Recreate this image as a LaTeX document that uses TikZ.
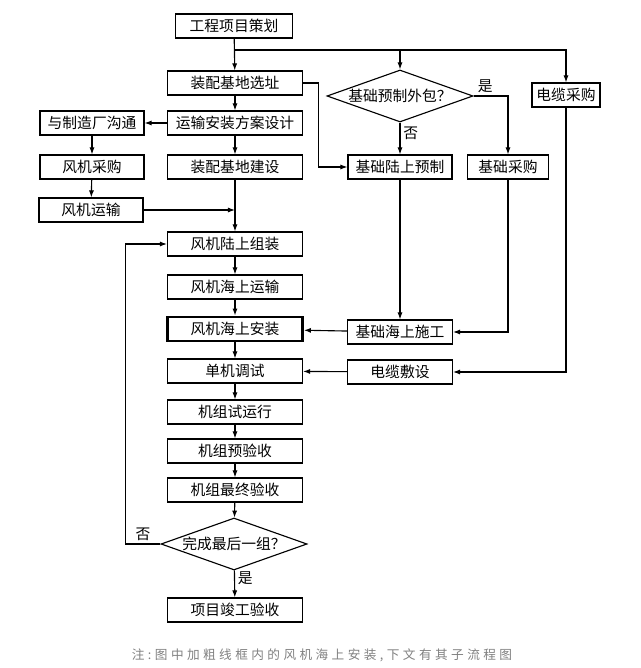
\documentclass[tikz,border=0pt]{standalone}
\usepackage{fontspec}
\usepackage{tikz}
\usetikzlibrary{arrows.meta,shapes.geometric}
\newfontfamily\cjk{Noto Sans CJK SC}
\newfontfamily\cjknote[LetterSpace=27]{Noto Sans CJK SC}
\tikzset{
  box/.style={draw, line width=0.8pt, minimum height=0.6cm, inner sep=0pt,
    font=\cjk\fontsize{10.5pt}{12pt}\selectfont},
  mainbox/.style={box, minimum width=3.375cm},
  sidebox/.style={box, minimum width=2.6cm},
  ask/.style={draw, line width=0.8pt, diamond, aspect=2.8, inner sep=0pt,
    minimum width=3.65cm, minimum height=1.3cm,
    font=\cjk\fontsize{10.5pt}{12pt}\selectfont},
  flow/.style={line width=0.8pt, -{Latex[length=5pt,width=3.6pt]}},
  tag/.style={font=\cjk\fontsize{10.5pt}{12pt}\selectfont, inner sep=2pt}
}
\begin{document}
\begin{tikzpicture}[x=0.025cm, y=-0.025cm]
    \useasboundingbox (0,0) rectangle (640,668);
    \node[box, minimum width=2.925cm] (plan) at (234, 26) {工程项目策划};
    \node[mainbox] (site)     at (235,  83) {装配基地选址};
    \node[mainbox] (design)   at (235, 123) {运输安装方案设计};
    \node[mainbox] (build)    at (235, 167) {装配基地建设};
    \node[sidebox] (talk)     at ( 92, 123) {与制造厂沟通};
    \node[sidebox] (wbuy)     at ( 92, 167) {风机采购};
    \node[sidebox] (wship)    at ( 91, 210) {风机运输};
    \node[mainbox] (assemble) at (235, 244) {风机陆上组装};
    \node[mainbox] (seaship)  at (235, 287) {风机海上运输};
    \node[mainbox, line width=2pt] (install) at (235, 329) {风机海上安装};
    \node[mainbox] (single)   at (235, 371) {单机调试};
    \node[mainbox] (trial)    at (235, 412) {机组试运行};
    \node[mainbox] (precheck) at (235, 451) {机组预验收};
    \node[mainbox] (fincheck) at (235, 490) {机组最终验收};
    \node[ask]     (lastone)  at (234, 544) {完成最后一组？};
    \node[mainbox] (done)     at (235, 610) {项目竣工验收};
    \node[ask]     (outsrc)   at (400,  96) {基础预制外包？};
    \node[sidebox] (fland)    at (400, 167) {基础陆上预制};
    \node[box, minimum width=2.025cm] (fbuy) at (508, 167) {基础采购};
    \node[box, minimum width=1.7cm]   (cbuy) at (566,  95) {电缆采购};
    \node[box, minimum width=2.625cm] (fsea) at (400, 332) {基础海上施工};
    \node[box, minimum width=2.625cm] (clay) at (400, 372) {电缆敷设};
    \coordinate (split) at (234, 50);
    \draw [flow] (plan) to (site);
    \draw [flow] (split) -| (cbuy);
    \draw [flow] (outsrc |- split) to (outsrc);
    \draw [flow] (site) to (design);
    \draw [flow] (design) to (build);
    \draw [flow] (design) to (talk);
    \draw [flow] (talk) to (wbuy);
    \draw [flow] (wbuy) to (wship);
    \draw [flow] (wship) to (build |- wship);
    \draw [flow] (build) to (assemble);
    \draw [flow] (site.east) -- ++(15,0) |- (fland.west);
    \draw [flow] (outsrc.east) -| node[tag, pos=0.17, above] {是} (fbuy);
    \draw [flow] (outsrc) to node[tag, pos=0.35, right] {否} (fland);
    \draw [flow] (fland) to (fsea);
    \draw [flow] (fbuy.south) |- (fsea.east);
    \draw [flow] (cbuy.south) |- (clay.east);
    \draw [flow] (fsea) to (install);
    \draw [flow] (clay) to (single);
    \draw [flow] (assemble) to (seaship);
    \draw [flow] (seaship) to (install);
    \draw [flow] (install) to (single);
    \draw [flow] (single) to (trial);
    \draw [flow] (trial) to (precheck);
    \draw [flow] (precheck) to (fincheck);
    \draw [flow] (fincheck) to (lastone);
    \draw [flow] (lastone.west) -- node[tag, above] {否} ++(-35,0) |- (assemble.west);
    \draw [flow] (lastone) to node[tag, pos=0.3, right] {是} (done);
    \node[text=black!50, font=\cjknote\fontsize{9pt}{11pt}\selectfont] (note) at (322, 655)
      {注:图中加粗线框内的风机海上安装,下文有其子流程图};
  \end{tikzpicture}
\end{document}
